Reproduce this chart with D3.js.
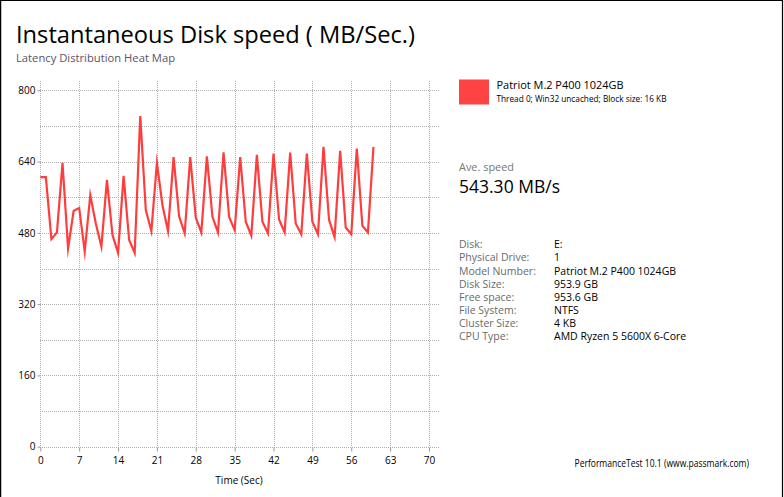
<!DOCTYPE html>
<html>
<head>
<meta charset="utf-8">
<script src="https://cdn.jsdelivr.net/npm/d3@7"></script>
<style>
  html, body { margin: 0; padding: 0; background: #fff; }
  svg { display: block; }
  text { font-family: "Open Sans", "Noto Sans", sans-serif; }
</style>
</head>
<body>
<svg id="chart" width="784" height="497"></svg>
<script>
// ---- data ----
const times = d3.range(0, 61);
const speeds = [605, 605, 466, 481, 637, 445, 529, 536, 438, 565,
                501, 449, 599, 475, 435, 608, 464, 435, 742, 531,
                484, 637, 542, 484, 650, 517, 479, 650, 514, 481,
                652, 516, 481, 661, 516, 486, 650, 505, 474, 655,
                505, 479, 658, 510, 481, 660, 501, 477, 658, 505,
                477, 673, 509, 471, 664, 492, 477, 669, 496, 481, 673];
const xTicks = [0, 7, 14, 21, 28, 35, 42, 49, 56, 63, 70];
const yTicks = [0, 160, 320, 480, 640, 800];
const yMinor = [80, 240, 400, 560, 720];
const title = "Instantaneous Disk speed ( MB/Sec.)";
const subtitle = "Latency Distribution Heat Map";
const seriesName = "Patriot M.2 P400 1024GB";
const seriesDesc = "Thread 0; Win32 uncached; Block size: 16 KB";
const aveLabel = "Ave. speed";
const aveValue = "543.30 MB/s";
const infoLabels = ["Disk:", "Physical Drive:", "Model Number:", "Disk Size:", "Free space:", "File System:", "Cluster Size:", "CPU Type:"];
const infoValues = ["E:", "1", "Patriot M.2 P400 1024GB", "953.9 GB", "953.6 GB", "NTFS", "4 KB", "AMD Ryzen 5 5600X 6-Core"];
const footer = "PerformanceTest 10.1 (www.passmark.com)";
const lineColor = "#ff3d3d";

// ---- layout ----
const svg = d3.select("#chart");
const x = d3.scaleLinear().domain([0, 70]).range([40.3, 429]);
const y = d3.scaleLinear().domain([0, 800]).range([446.7, 90.3]);
const plotTop = 81, plotRight = 439.3, plotBottom = y(0);

// border
svg.append("line").attr("x1", 0.5).attr("x2", 0.5).attr("y1", 0).attr("y2", 497).attr("stroke", "#000").attr("stroke-width", 1.5);
svg.append("line").attr("x1", 0).attr("x2", 783).attr("y1", 0.5).attr("y2", 0.5).attr("stroke", "#000").attr("stroke-width", 1.2);
svg.append("line").attr("x1", 782.5).attr("x2", 782.5).attr("y1", 0).attr("y2", 497).attr("stroke", "#000").attr("stroke-width", 1.2);

// titles
svg.append("text").attr("x", 16).attr("y", 42.8).attr("font-size", 24.5).attr("fill", "#000")
  .attr("textLength", 399).attr("lengthAdjust", "spacingAndGlyphs").text(title);
svg.append("text").attr("x", 16).attr("y", 62).attr("font-size", 11).attr("fill", "#5b5366")
  .attr("textLength", 159).attr("lengthAdjust", "spacingAndGlyphs").text(subtitle);

// grid
const grid = svg.append("g").attr("stroke", "#b0b0b0").attr("stroke-width", 1).attr("shape-rendering", "crispEdges");
const gy = [...yTicks, ...yMinor];
grid.selectAll("line.h").data(gy).join("line").attr("class", "h")
  .attr("x1", x(0)).attr("x2", plotRight)
  .attr("y1", d => Math.round(y(d)) + 0.5).attr("y2", d => Math.round(y(d)) + 0.5)
  .attr("stroke-dasharray", "1,1");
grid.selectAll("line.v").data(xTicks).join("line").attr("class", "v")
  .attr("x1", d => Math.round(x(d)) + 0.5).attr("x2", d => Math.round(x(d)) + 0.5)
  .attr("y1", plotTop).attr("y2", plotBottom)
  .attr("stroke-dasharray", "1,1");

// axes via d3
const yAxis = d3.axisLeft(y).tickValues(yTicks).tickSize(3).tickPadding(2).tickFormat(d3.format("d"));
const yg = svg.append("g").attr("transform", `translate(${Math.round(x(0)) + 0.5},0)`).call(yAxis);
yg.select(".domain").remove();
yg.selectAll(".tick line").attr("stroke", "#999");
yg.selectAll("text").attr("font-size", 10).attr("fill", "#000").attr("font-family", "'Open Sans', sans-serif");

const xAxis = d3.axisBottom(x).tickValues(xTicks).tickSize(4).tickPadding(5).tickFormat(d3.format("d"));
const xg = svg.append("g").attr("transform", `translate(0,${Math.round(plotBottom) + 0.5})`).call(xAxis);
xg.select(".domain").remove();
xg.selectAll(".tick line").attr("stroke", "#999");
xg.selectAll("text").attr("font-size", 10).attr("fill", "#000").attr("font-family", "'Open Sans', sans-serif");

svg.append("text").attr("x", 239).attr("y", 484).attr("text-anchor", "middle").attr("font-size", 10).attr("fill", "#000").text("Time (Sec)");

// line
const line = d3.line().x((d, i) => x(times[i])).y(d => y(d));
svg.append("path").datum(speeds).attr("d", line).attr("fill", "none")
  .attr("stroke", lineColor).attr("stroke-width", 2.2).attr("stroke-linejoin", "miter").attr("stroke-miterlimit", 10);

// legend / right panel
svg.append("rect").attr("x", 459).attr("y", 79.5).attr("width", 30).attr("height", 25).attr("fill", "#ff4242");
svg.append("text").attr("x", 496.5).attr("y", 89.3).attr("font-size", 11).attr("fill", "#000")
  .attr("textLength", 127).attr("lengthAdjust", "spacingAndGlyphs").text(seriesName);
svg.append("text").attr("x", 496.5).attr("y", 102.3).attr("font-size", 8.5).attr("fill", "#000")
  .attr("textLength", 170).attr("lengthAdjust", "spacingAndGlyphs").text(seriesDesc);

svg.append("text").attr("x", 459).attr("y", 171).attr("font-size", 10.5).attr("fill", "#777")
  .attr("textLength", 55).attr("lengthAdjust", "spacingAndGlyphs").text(aveLabel);
svg.append("text").attr("x", 459).attr("y", 192.7).attr("font-size", 17.5).attr("fill", "#000")
  .attr("textLength", 101).attr("lengthAdjust", "spacingAndGlyphs").text(aveValue);

const rowY = d3.scaleLinear().domain([0, 7]).range([248.3, 340]);
const info = svg.append("g");
info.selectAll("text.l").data(infoLabels).join("text").attr("class", "l")
  .attr("x", 459).attr("y", (d, i) => rowY(i)).attr("font-size", 10.5).attr("fill", "#6a6a6a").text(d => d);
info.selectAll("text.v").data(infoValues).join("text").attr("class", "v")
  .attr("x", 554).attr("y", (d, i) => rowY(i)).attr("font-size", 10.5).attr("fill", "#000").text(d => d);

svg.append("text").attr("x", 574.5).attr("y", 466.7).attr("font-size", 10).attr("fill", "#000")
  .attr("textLength", 174.5).attr("lengthAdjust", "spacingAndGlyphs").text(footer);
</script>
</body>
</html>
